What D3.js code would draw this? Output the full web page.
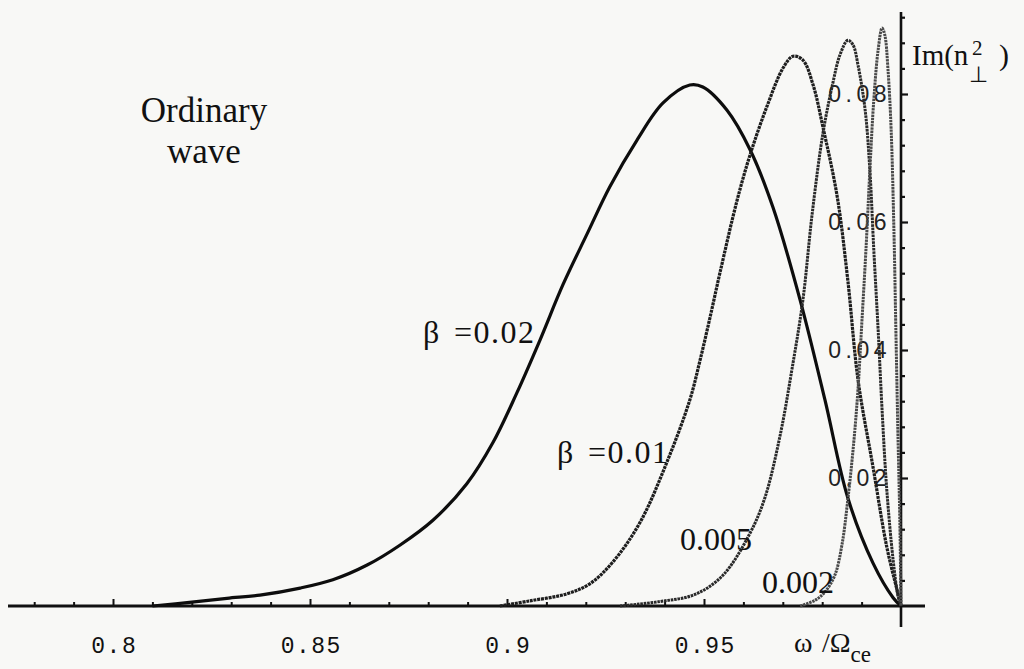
<!DOCTYPE html>
<html>
<head>
<meta charset="utf-8">
<script src="https://cdn.jsdelivr.net/npm/d3@7"></script>
<style>
  html, body { margin: 0; padding: 0; background: #f8f8f6; }
  svg { display: block; }
</style>
</head>
<body>
<svg class="absorb" width="1024" height="669"></svg>
<script>
// curves: [omega / Omega_ce, Im(n_perp^2)]
const curve002 = [
  [0.810, 0.0000], [0.8200, 0.0006], [0.8289, 0.0012], [0.8373, 0.0017], [0.8475, 0.0028],
  [0.8558, 0.0041], [0.8645, 0.0064], [0.8728, 0.0095], [0.8812, 0.0134], [0.8898, 0.0191],
  [0.8964, 0.0255], [0.9025, 0.0333], [0.9084, 0.0416], [0.9142, 0.0502], [0.9203, 0.0581],
  [0.9261, 0.0655], [0.9330, 0.0728], [0.9396, 0.0786], [0.9464, 0.0814], [0.9497, 0.0811],
  [0.9558, 0.0775], [0.9617, 0.0713], [0.9675, 0.0623], [0.9744, 0.0478], [0.9807, 0.0322],
  [0.9865, 0.0169], [0.9929, 0.0067], [0.9980, 0.0013], [1.0000, 0.0000]
];
const curve001 = [
  [0.8982, 0.0000], [0.9058, 0.0008], [0.9152, 0.0019], [0.9211, 0.0035], [0.9269, 0.0069],
  [0.9338, 0.0131], [0.9406, 0.0225], [0.9464, 0.0322], [0.9490, 0.0384], [0.9515, 0.0450],
  [0.9541, 0.0522], [0.9584, 0.0634], [0.9617, 0.0705], [0.9660, 0.0781], [0.9701, 0.0841],
  [0.9726, 0.0859], [0.9751, 0.0853], [0.9777, 0.0814], [0.9802, 0.0748], [0.9838, 0.0640],
  [0.9865, 0.0509], [0.9891, 0.0353], [0.9929, 0.0217], [0.9964, 0.0092], [0.9990, 0.0025],
  [1.0000, 0.0000]
];
const curve0005 = [
  [0.9287, 0.0000], [0.9388, 0.0007], [0.9477, 0.0018], [0.9548, 0.0048], [0.9617, 0.0114],
  [0.9655, 0.0170], [0.9693, 0.0266], [0.9723, 0.0369], [0.9751, 0.0478], [0.9774, 0.0610],
  [0.9802, 0.0739], [0.9827, 0.0817], [0.9845, 0.0861], [0.9865, 0.0884], [0.9878, 0.0877],
  [0.9891, 0.0845], [0.9909, 0.0775], [0.9921, 0.0681], [0.9931, 0.0556], [0.9942, 0.0431],
  [0.9952, 0.0306], [0.9964, 0.0181], [0.9980, 0.0072], [0.9992, 0.0017], [1.0000, 0.0000]
];
const curve0002 = [
  [0.9744, 0.0000], [0.9782, 0.0009], [0.9807, 0.0022], [0.9832, 0.0048], [0.9850, 0.0095],
  [0.9865, 0.0166], [0.9880, 0.0255], [0.9891, 0.0340], [0.9901, 0.0447], [0.9911, 0.0556],
  [0.9921, 0.0681], [0.9931, 0.0791], [0.9942, 0.0869], [0.9952, 0.0903], [0.9959, 0.0892],
  [0.9967, 0.0838], [0.9975, 0.0744], [0.9982, 0.0588], [0.9987, 0.0431], [0.9992, 0.0275],
  [0.9997, 0.0134], [1.0000, 0.0000]
];

const xTicksMajor = [0.8, 0.85, 0.9, 0.95];
const xTicksMinor = [0.78, 0.79, 0.81, 0.82, 0.83, 0.84, 0.86, 0.87, 0.88, 0.89,
                     0.91, 0.92, 0.93, 0.94, 0.96, 0.97, 0.98, 0.99];
const yTicksMajor = [0.02, 0.04, 0.06, 0.08];
const yTicksMinor = [0.004, 0.008, 0.012, 0.016, 0.024, 0.028, 0.032, 0.036, 0.044, 0.048,
                     0.052, 0.056, 0.064, 0.068, 0.072, 0.076, 0.084, 0.088, 0.092];

function drawAbsorption(){
  const svg = d3.select('svg.absorb');

  const x = d3.scaleLinear().domain([0.8, 1.0]).range([113, 901]);
  const y = d3.scaleLinear().domain([0, 0.08]).range([606, 94]);

  const serif = "'Liberation Serif', 'Times New Roman', serif";

  const series = [
    {data: curve002, color: '#0d0d0d', width: 3.2, dash: null},
    {data: curve001, color: '#1e1e1e', width: 3.2, dash: '3 0.8'},
    {data: curve0005, color: '#2a2a2a', width: 3, dash: '2.6 0.8'},
    {data: curve0002, color: '#4a4a4a', width: 3, dash: '2.4 0.8'}
  ];

  // x axis (ticks point up, labels below)
  const xAxisG = svg.append('g')
      .attr('class', 'xAxis')
      .attr('transform', `translate(0, ${y(0)})`);

  xAxisG.append('g')
      .call(d3.axisBottom(x).tickValues(xTicksMinor).tickSize(-4).tickFormat(''))
      .call(g => g.select('.domain').remove());

  xAxisG.append('g')
      .call(d3.axisBottom(x).tickValues(xTicksMajor).tickSize(-7).tickPadding(31)
              .tickFormat(d3.format('.2~f')))
      .call(g => g.select('.domain').remove());

  xAxisG.selectAll('.tick line')
      .attr('stroke', '#111')
      .attr('stroke-width', 2);

  xAxisG.selectAll('.tick text')
      .attr('fill', '#111')
      .attr('dx', '0.75px')
      .style('font-family', "'Liberation Mono', 'Courier New', monospace")
      .style('font-size', '23px')
      .style('letter-spacing', '1.5px');

  xAxisG.append('line')
      .attr('x1', 8)
      .attr('x2', 925)
      .attr('stroke', '#111')
      .attr('stroke-width', 2.8);

  // y axis sits at omega = Omega_ce
  const yAxisG = svg.append('g')
      .attr('class', 'yAxis')
      .attr('transform', `translate(${x(1.0)}, 0)`);

  yAxisG.append('g')
      .call(d3.axisRight(y).tickValues(yTicksMinor).tickSize(4).tickFormat(''))
      .call(g => g.select('.domain').remove());

  yAxisG.append('g')
      .call(d3.axisRight(y).tickValues(yTicksMajor).tickSize(7).tickFormat(d3.format('.2f')))
      .call(g => g.select('.domain').remove());

  yAxisG.selectAll('.tick line')
      .attr('stroke', '#111')
      .attr('stroke-width', 2.2);

  yAxisG.selectAll('.tick text')
      .attr('x', -10)
      .attr('text-anchor', 'end')
      .attr('fill', '#222')
      .style('font-family', "'Liberation Sans', Arial, sans-serif")
      .style('font-size', '23px')
      .style('letter-spacing', '4.5px');

  yAxisG.append('line')
      .attr('y1', 12)
      .attr('y2', 627)
      .attr('stroke', '#111')
      .attr('stroke-width', 2.6);

  // curves
  const line = d3.line()
      .x(d => x(d[0]))
      .y(d => y(d[1]))
      .curve(d3.curveCatmullRom.alpha(0.5));

  svg.append('g')
      .attr('class', 'curves')
      .selectAll('path')
      .data(series)
      .enter()
      .append('path')
      .attr('d', d => line(d.data))
      .attr('fill', 'none')
      .attr('stroke', d => d.color)
      .attr('stroke-width', d => d.width)
      .attr('stroke-dasharray', d => d.dash)
      .attr('stroke-linejoin', 'round');

  // curve labels
  const labels = [
    {pre: 'β', text: '=0.02', x: 423, y: 343},
    {pre: 'β', text: '=0.01', x: 557, y: 463},
    {pre: '', text: '0.005', x: 680, y: 550},
    {pre: '', text: '0.002', x: 762, y: 593}
  ];

  const labG = svg.append('g')
      .attr('class', 'curveLabels')
      .selectAll('text')
      .data(labels)
      .enter()
      .append('text')
      .attr('y', d => d.y)
      .attr('fill', '#111')
      .style('font-family', serif)
      .style('font-size', '32px');

  labG.filter(d => d.pre).append('tspan')
      .attr('x', d => d.x)
      .text(d => d.pre);
  labG.append('tspan')
      .attr('x', d => d.pre ? d.x + 31 : d.x)
      .style('letter-spacing', d => d.pre ? '1.5px' : null)
      .text(d => d.text);

  // title block
  const title = svg.append('text')
      .attr('text-anchor', 'middle')
      .attr('fill', '#111')
      .style('font-family', serif)
      .style('font-size', '35px');
  title.append('tspan').attr('x', 204).attr('y', 122).text('Ordinary');
  title.append('tspan').attr('x', 204).attr('y', 163).text('wave');

  // y axis label Im(n_perp^2)
  const yLab = svg.append('g')
      .attr('fill', '#111')
      .style('font-family', serif);
  yLab.append('text').attr('x', 912).attr('y', 65).style('font-size', '29px').text('Im(n');
  yLab.append('text').attr('x', 972).attr('y', 55).style('font-size', '21px').text('2');
  yLab.append('text').attr('x', 969).attr('y', 82).style('font-size', '22px').text('⊥');
  yLab.append('text').attr('x', 999).attr('y', 65).style('font-size', '30px').text(')');

  // x axis label omega / Omega_ce
  const xLab = svg.append('text')
      .attr('y', 652)
      .attr('fill', '#111')
      .style('font-family', serif)
      .style('font-size', '28px');
  xLab.append('tspan').attr('x', 794).text('ω');
  xLab.append('tspan').attr('x', 822).text('/Ω');
  xLab.append('tspan').attr('dy', 10).style('font-size', '23px').text('ce');
}

drawAbsorption();
</script>
</body>
</html>
